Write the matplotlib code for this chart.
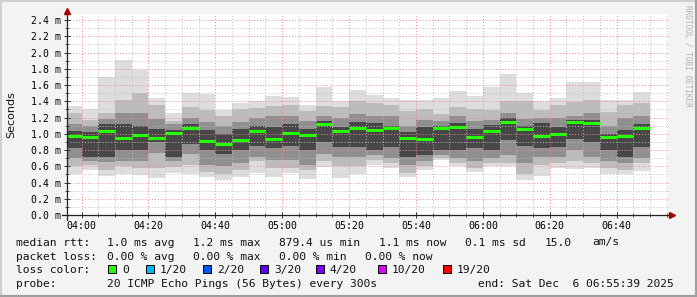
import pandas as pd
import matplotlib
matplotlib.use('Agg')
import matplotlib.pyplot as plt
import matplotlib.dates as mdates
from matplotlib.patches import Rectangle
from matplotlib.lines import Line2D
from matplotlib.ticker import MultipleLocator, FuncFormatter

# 5 minute steps, 20 pings each, values in ms
starts = pd.date_range('2025-12-06 03:55', periods=35, freq='5min')
t_start = pd.Timestamp('2025-12-06 03:55:39')
t_end = pd.Timestamp('2025-12-06 06:55:39')

median = [0.97, 0.965, 1.035, 0.95, 0.99, 0.95, 1.015, 1.065, 0.915, 0.877,
          0.92, 1.04, 0.935, 1.005, 0.98, 1.115, 1.03, 1.07, 1.05, 1.075,
          0.95, 0.94, 1.067, 1.08, 0.96, 1.035, 1.15, 1.06, 0.97, 0.995,
          1.14, 1.135, 0.965, 0.97, 1.075]
ping_max = [1.34, 1.31, 1.70, 1.91, 1.78, 1.44, 1.25, 1.50, 1.49, 1.29,
            1.38, 1.40, 1.46, 1.45, 1.36, 1.58, 1.40, 1.54, 1.48, 1.44,
            1.42, 1.42, 1.44, 1.53, 1.46, 1.57, 1.74, 1.50, 1.40, 1.44,
            1.64, 1.64, 1.42, 1.42, 1.52]
hi1 = [1.25, 1.17, 1.25, 1.42, 1.50, 1.36, 1.16, 1.33, 1.29, 1.22,
       1.30, 1.32, 1.34, 1.35, 1.28, 1.34, 1.33, 1.40, 1.38, 1.36,
       1.28, 1.30, 1.24, 1.33, 1.30, 1.29, 1.40, 1.40, 1.29, 1.36,
       1.39, 1.42, 1.27, 1.35, 1.38]
hi2 = [1.12, 1.10, 1.18, 1.25, 1.25, 1.18, 1.12, 1.20, 1.15, 1.10,
       1.15, 1.20, 1.22, 1.22, 1.16, 1.22, 1.20, 1.24, 1.22, 1.22,
       1.10, 1.17, 1.16, 1.22, 1.16, 1.17, 1.25, 1.18, 1.20, 1.20,
       1.22, 1.25, 1.10, 1.20, 1.22]
hi3 = [1.03, 1.02, 1.12, 1.12, 1.10, 1.06, 1.05, 1.12, 1.05, 1.00,
       1.06, 1.10, 1.08, 1.12, 1.06, 1.16, 1.08, 1.14, 1.13, 1.10,
       1.02, 1.08, 1.10, 1.13, 1.06, 1.11, 1.19, 1.10, 1.13, 1.08,
       1.17, 1.17, 1.00, 1.05, 1.12]
lo3 = [0.82, 0.72, 0.72, 0.80, 0.80, 0.90, 0.72, 0.88, 0.80, 0.75,
       0.80, 0.85, 0.82, 0.85, 0.80, 0.90, 0.84, 0.84, 0.80, 0.84,
       0.72, 0.74, 0.80, 0.80, 0.82, 0.80, 0.92, 0.85, 0.82, 0.84,
       0.94, 0.90, 0.80, 0.72, 0.84]
lo2 = [0.70, 0.66, 0.65, 0.66, 0.66, 0.76, 0.66, 0.75, 0.62, 0.60,
       0.64, 0.72, 0.68, 0.68, 0.62, 0.75, 0.72, 0.72, 0.74, 0.70,
       0.62, 0.66, 0.74, 0.70, 0.66, 0.70, 0.74, 0.64, 0.72, 0.72,
       0.80, 0.72, 0.66, 0.64, 0.70]
lo1 = [0.60, 0.62, 0.56, 0.60, 0.58, 0.58, 0.59, 0.62, 0.53, 0.50,
       0.56, 0.66, 0.58, 0.58, 0.55, 0.66, 0.60, 0.60, 0.68, 0.64,
       0.52, 0.60, 0.70, 0.64, 0.58, 0.64, 0.64, 0.50, 0.62, 0.64,
       0.67, 0.64, 0.58, 0.56, 0.64]
ping_min = [0.51, 0.55, 0.48, 0.50, 0.49, 0.455, 0.52, 0.50, 0.47, 0.43,
            0.47, 0.52, 0.47, 0.52, 0.44, 0.59, 0.46, 0.50, 0.62, 0.58,
            0.47, 0.55, 0.68, 0.60, 0.53, 0.60, 0.60, 0.43, 0.48, 0.58,
            0.57, 0.58, 0.50, 0.50, 0.54]

smoke_colors = ['#dddddd', '#bcbcbc', '#8f8f8f', '#474747']
loss_labels = ['0', '1/20', '2/20', '3/20', '4/20', '10/20', '19/20']
loss_colors = ['#26ff00', '#00b8ff', '#0059ff', '#5e00ff', '#7e00ff', '#dd00ff', '#ff0000']

W, H = 697, 297
mono = 'DejaVu Sans Mono'


def px(x, y):
    return x / W, 1 - y / H


fig = plt.figure(figsize=(W / 100, H / 100), dpi=100, facecolor='#f3f3f3')

# 3d frame like rrdtool
fig.add_artist(Line2D([0, 1], [1 - 1 / H, 1 - 1 / H], color='#cfcfcf', lw=1.5))
fig.add_artist(Line2D([1 / W, 1 / W], [0, 1], color='#cfcfcf', lw=1.5))
fig.add_artist(Line2D([0, 1], [1 / H, 1 / H], color='#9e9e9e', lw=1.5))
fig.add_artist(Line2D([1 - 1 / W, 1 - 1 / W], [0, 1], color='#9e9e9e', lw=1.5))

x0, y0 = px(67, 215)
x1, y1 = px(669, 14)
ax = fig.add_axes([x0, y0, x1 - x0, y1 - y0])
ax.set_facecolor('white')
for s in ax.spines.values():
    s.set_visible(False)

width = pd.Timedelta(minutes=5) / pd.Timedelta(days=1)
xs = mdates.date2num(starts)
bands = [(ping_min, ping_max), (lo1, hi1), (lo2, hi2), (lo3, hi3)]
for (lo, hi), c in zip(bands, smoke_colors):
    ax.bar(xs, [h - l for h, l in zip(hi, lo)], bottom=lo, width=width,
           align='edge', color=c, linewidth=0, zorder=1)
ax.hlines(median, xs, xs + width, colors=loss_colors[0], linewidth=2.2, zorder=4)

ax.set_xlim(mdates.date2num(t_start), mdates.date2num(t_end))
ax.set_ylim(0, 2.474)

ax.xaxis.set_major_locator(mdates.MinuteLocator(byminute=[0, 20, 40]))
ax.xaxis.set_minor_locator(mdates.MinuteLocator(byminute=range(0, 60, 5)))
ax.xaxis.set_major_formatter(mdates.DateFormatter('%H:%M'))
ax.yaxis.set_major_locator(MultipleLocator(0.2))
ax.yaxis.set_minor_locator(MultipleLocator(0.1))
ax.yaxis.set_major_formatter(FuncFormatter(lambda v, p: f'{v:.1f} m'))

ax.grid(which='minor', color='#bdbdbd', linestyle=(0, (1, 2)), linewidth=0.7, zorder=3)
ax.grid(which='major', color='#ee8a8a', linestyle=(0, (1, 2)), linewidth=0.7, zorder=3)
ax.set_axisbelow(False)

ax.tick_params(which='major', direction='inout', length=4, width=0.7, color='#333333',
               labelsize=7.1, pad=2)
ax.tick_params(which='minor', direction='inout', length=3, width=0.6, color='#333333')
for lab in ax.get_xticklabels() + ax.get_yticklabels():
    lab.set_family(mono)

# axis lines with arrows
ax.plot([-5 / 602, 605 / 602], [0, 0], color='#222222', lw=0.9, transform=ax.transAxes,
        clip_on=False, zorder=5)
ax.plot([0, 0], [-5 / 201, 204 / 201], color='#222222', lw=0.9, transform=ax.transAxes,
        clip_on=False, zorder=5)
ax.plot([605 / 602], [0], marker='>', color='#a00000', markersize=4, transform=ax.transAxes,
        clip_on=False, zorder=6)
ax.plot([0], [204 / 201], marker='^', color='#a00000', markersize=4, transform=ax.transAxes,
        clip_on=False, zorder=6)

fig.text(*px(11, 115), 'Seconds', rotation=90, ha='center', va='center',
         fontsize=8, family='DejaVu Sans', color='#111111')
fig.text(*px(688, 5), 'RRDTOOL / TOBI OETIKER', rotation=270, ha='center', va='top',
         fontsize=5.6, family=mono, color='#b0b0b0')

# legend
fs = 8.1
rows = [
    (245.5, [(16, 'median rtt:'), (107, '1.0 ms avg'), (193, '1.2 ms max'),
             (279, '879.4 us min'), (379, '1.1 ms now'), (465, '0.1 ms sd'),
             (545, '15.0'), (592, 'am/s')]),
    (259.5, [(16, 'packet loss:'), (107, '0.00 % avg'), (193, '0.00 % max'),
             (279, '0.00 % min'), (365, '0.00 % now')]),
    (273, [(16, 'loss color:')]),
    (287, [(16, 'probe:'), (107, '20 ICMP Echo Pings (56 Bytes) every 300s'),
           (478, 'end: Sat Dec  6 06:55:39 2025')]),
]
for yb, items in rows:
    for xp, txt in items:
        fig.text(*px(xp, yb), txt, ha='left', va='baseline', fontsize=fs,
                 family=mono, color='#111111')

sq_x = [108, 146, 203, 260, 316, 378, 443]
for xp, lab, c in zip(sq_x, loss_labels, loss_colors):
    fx, fy = px(xp, 273)
    fig.add_artist(Rectangle((fx, fy), 8 / W, 8 / H, facecolor=c, edgecolor='black',
                             linewidth=0.7, transform=fig.transFigure))
    fig.text(*px(xp + 14, 273), lab, ha='left', va='baseline', fontsize=fs,
             family=mono, color='#111111')

fig.savefig('out.png', dpi=100, facecolor=fig.get_facecolor())
